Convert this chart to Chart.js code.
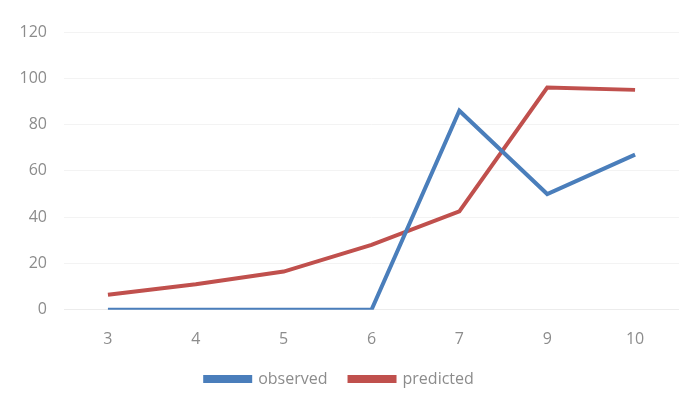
<!DOCTYPE html>
<html>
<head>
<meta charset="utf-8">
<script src="https://cdn.jsdelivr.net/npm/chart.js@4"></script>
<style>
  html, body { margin: 0; padding: 0; background: #fff; }
  #wrap { width: 679px; height: 415px; }
</style>
</head>
<body>
<div id="wrap"><canvas id="chart"></canvas></div>
<script>
const categories = ["3", "4", "5", "6", "7", "9", "10"];
const observed = [0, 0, 0, 0, 86, 50, 67];
const predicted = [6.5, 11, 16.5, 28, 42.5, 96, 95];
const yTicks = [0, 20, 40, 60, 80, 100, 120];

const textColor = "#8c8c8c";
const font = { family: "'Open Sans', 'Liberation Sans', sans-serif", size: 16 };

new Chart(document.getElementById("chart"), {
  type: "line",
  data: {
    labels: categories,
    datasets: [
      {
        label: "observed",
        data: observed,
        borderColor: "#4a7ebb",
        backgroundColor: "#4a7ebb",
        borderWidth: 4,
        pointRadius: 0,
        tension: 0,
      },
      {
        label: "predicted",
        data: predicted,
        borderColor: "#c0504d",
        backgroundColor: "#c0504d",
        borderWidth: 4,
        pointRadius: 0,
        tension: 0,
      },
    ],
  },
  options: {
    responsive: true,
    maintainAspectRatio: false,
    animation: false,
    layout: { padding: { top: 32, right: 0, bottom: 18, left: 0 } },
    plugins: {
      legend: {
        position: "bottom",
        maxHeight: 50,
        labels: {
          color: textColor,
          font: font,
          boxWidth: 45,
          boxHeight: 4,
          padding: 22,
        },
      },
      tooltip: { enabled: false },
    },
    scales: {
      x: {
        offset: true,
        afterFit: (axis) => { axis.height -= 12; },
        grid: { display: false },
        border: { display: true, color: "#ececec", width: 1 },
        ticks: { color: textColor, font: font, padding: 12 },
      },
      y: {
        min: 0,
        max: 120,
        afterBuildTicks: (axis) => { axis.ticks = yTicks.map((v) => ({ value: v })); },
        afterFit: (axis) => { axis.width = 64; },
        grid: { color: "#f3f3f3", drawTicks: false },
        border: { display: false },
        ticks: { color: textColor, font: font, padding: 17 },
      },
    },
  },
});
</script>
</body>
</html>
